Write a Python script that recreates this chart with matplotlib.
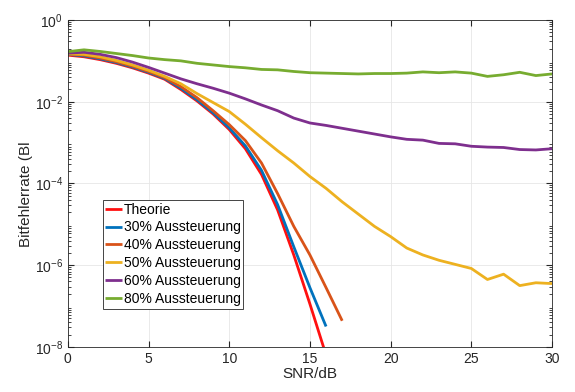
import numpy as np
import matplotlib
matplotlib.use("Agg")
import matplotlib.pyplot as plt
from matplotlib.ticker import LogLocator, NullFormatter, FixedLocator

plt.rcParams['font.family'] = ['Liberation Sans', 'DejaVu Sans']

snr = list(range(0, 31))

# log10 of bit error rate
theorie_log = [-0.86, -0.90, -0.97, -1.06, -1.17, -1.30, -1.45, -1.70, -1.98, -2.30,
               -2.68, -3.15, -3.78, -4.65, -5.75, -6.95, -8.20]
a30_log = [-0.84, -0.88, -0.95, -1.04, -1.15, -1.28, -1.43, -1.67, -1.95, -2.27,
           -2.64, -3.08, -3.68, -4.52, -5.55, -6.55, -7.50]
a40_log = [-0.83, -0.86, -0.93, -1.02, -1.13, -1.26, -1.41, -1.63, -1.90, -2.22,
           -2.56, -2.95, -3.50, -4.25, -5.05, -5.75, -6.55, -7.36]
a50_log = [-0.83, -0.84, -0.90, -0.99, -1.10, -1.23, -1.38, -1.56, -1.80, -2.02,
           -2.24, -2.55, -2.88, -3.20, -3.50, -3.83, -4.12, -4.45, -4.75, -5.05,
           -5.30, -5.58, -5.75, -5.88, -5.98, -6.08, -6.35, -6.22, -6.50, -6.43, -6.45]
a60_log = [-0.81, -0.79, -0.84, -0.92, -1.03, -1.16, -1.30, -1.44, -1.56, -1.67,
           -1.79, -1.93, -2.08, -2.22, -2.40, -2.52, -2.58, -2.65, -2.72, -2.79,
           -2.86, -2.92, -2.94, -3.02, -3.03, -3.09, -3.11, -3.12, -3.17, -3.18, -3.15]
a80_log = [-0.775, -0.73, -0.77, -0.82, -0.87, -0.93, -0.97, -1.00, -1.06, -1.10,
           -1.14, -1.17, -1.21, -1.22, -1.26, -1.29, -1.30, -1.31, -1.32, -1.31,
           -1.31, -1.30, -1.27, -1.29, -1.27, -1.30, -1.38, -1.34, -1.28, -1.36, -1.32]

series = [
    ("Theorie", theorie_log, "#FF1010"),
    ("30% Aussteuerung", a30_log, "#0072BD"),
    ("40% Aussteuerung", a40_log, "#D95319"),
    ("50% Aussteuerung", a50_log, "#EDB120"),
    ("60% Aussteuerung", a60_log, "#7E2F8E"),
    ("80% Aussteuerung", a80_log, "#77AC30"),
]

fig = plt.figure(figsize=(5.75, 3.92), dpi=100)
ax = fig.add_axes([0.118, 0.115, 0.842, 0.834])

for label, vals, color in series:
    x = snr[:len(vals)]
    y = [10.0 ** v for v in vals]
    ax.semilogy(x, y, color=color, lw=2.0, label=label, solid_capstyle='butt')

ax.set_xlim(0, 30)
ax.set_ylim(1e-8, 1)
ax.set_xticks([0, 5, 10, 15, 20, 25, 30])
ax.yaxis.set_major_locator(FixedLocator([1e-8, 1e-6, 1e-4, 1e-2, 1]))
ax.yaxis.set_minor_locator(LogLocator(base=10, subs=np.arange(2, 10), numticks=20))
ax.yaxis.set_minor_formatter(NullFormatter())
ax.tick_params(which='both', direction='in', top=True, right=True,
               labelsize=10, colors='#262626')
ax.tick_params(which='major', length=4)
ax.tick_params(which='minor', length=2)
for s in ax.spines.values():
    s.set_color('#262626')
    s.set_linewidth(0.6)
ax.grid(True, which='major', color='#e6e6e6', lw=0.6)
ax.set_axisbelow(True)

ax.set_xlabel("SNR/dB", fontsize=11, color='#262626', labelpad=1)
fig.text(0.045, 0.505, "Bitfehlerrate (Bl", rotation=90, va='center', ha='center',
         fontsize=11, color='#262626')

leg = ax.legend(loc='upper left', bbox_to_anchor=(0.072, 0.45), fontsize=10,
                handlelength=1.2, handletextpad=0.1, labelspacing=0.28,
                borderpad=0.2, borderaxespad=0, fancybox=False, framealpha=1)
leg.get_frame().set_edgecolor('#262626')
leg.get_frame().set_linewidth(0.6)

fig.savefig("out.png", dpi=100)
